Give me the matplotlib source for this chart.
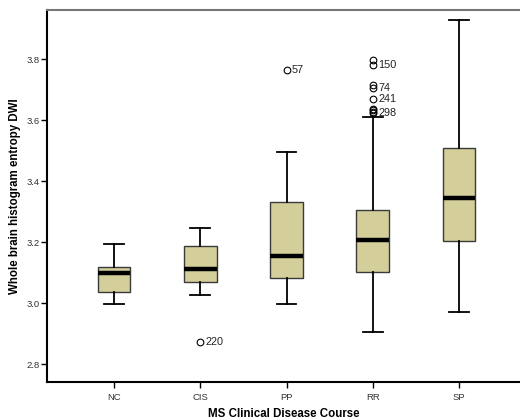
import matplotlib
matplotlib.use("Agg")
import matplotlib.pyplot as plt

plt.rcParams['font.family'] = ['Liberation Sans', 'DejaVu Sans']

categories = ["NC", "CIS", "PP", "RR", "SP"]
whislo = [2.996, 3.026, 2.997, 2.905, 2.970]
q1 = [3.037, 3.069, 3.081, 3.103, 3.203]
med = [3.099, 3.112, 3.154, 3.206, 3.345]
q3 = [3.118, 3.187, 3.330, 3.305, 3.509]
whishi = [3.193, 3.247, 3.496, 3.609, 3.928]

outlier_values = [[], [2.873], [3.766],
                  [3.797, 3.782, 3.716, 3.707, 3.671, 3.638, 3.633, 3.628, 3.624], []]
outlier_labels = [[], ["220"], ["57"],
                  ["", "150", "", "74", "241", "", "", "", "298"], []]

yticks = [2.8, 3.0, 3.2, 3.4, 3.6, 3.8]
xlabel = "MS Clinical Disease Course"
ylabel = "Whole brain histogram entropy DWI"

box_color = "#D3CE9A"

fig = plt.figure(figsize=(5.2, 4.2), dpi=100)
ax = fig.add_axes([47/520, 1-382/420, 1-47/520, (382-9.5)/420])

stats = []
for i, c in enumerate(categories):
    stats.append(dict(label=c, whislo=whislo[i], q1=q1[i], med=med[i],
                      q3=q3[i], whishi=whishi[i], fliers=outlier_values[i]))

positions = list(range(1, len(categories) + 1))
ax.bxp(stats, positions=positions, widths=0.38, patch_artist=True,
       showfliers=True,
       boxprops=dict(facecolor=box_color, edgecolor="#3a3a3a", linewidth=1.0),
       medianprops=dict(color="black", linewidth=3.2, solid_capstyle="butt"),
       whiskerprops=dict(color="black", linewidth=1.3),
       capprops=dict(color="black", linewidth=1.3),
       capwidths=0.23,
       flierprops=dict(marker="o", markerfacecolor="none", markeredgecolor="black",
                       markersize=4.8, markeredgewidth=0.8))

for i, (vals, labs) in enumerate(zip(outlier_values, outlier_labels)):
    for v, l in zip(vals, labs):
        if l:
            ax.annotate(l, xy=(positions[i], v), xytext=(4, 0),
                        textcoords="offset points", va="center", ha="left",
                        fontsize=7.8, color="#222222")

ax.set_xlim(0.223, 5.707)
ax.set_ylim(2.741, 3.963)
ax.set_yticks(yticks)
ax.set_yticklabels([f"{t:.1f}" for t in yticks])
ax.set_xticks(positions)
ax.set_xticklabels(categories)
ax.tick_params(axis="both", labelsize=6.8, labelcolor="#333333", length=4, width=1.0, color="black")
ax.tick_params(axis="x", pad=4)
ax.tick_params(axis="y", pad=1.5)

ax.spines["right"].set_visible(False)
ax.spines["top"].set_color("#777777")
ax.spines["top"].set_linewidth(1.5)
ax.spines["left"].set_linewidth(1.5)
ax.spines["bottom"].set_linewidth(1.5)

ax.set_xlabel(xlabel, fontsize=8.3, fontweight="bold", labelpad=4)
ax.set_ylabel(ylabel, fontsize=8.3, fontweight="bold", labelpad=4)

fig.savefig("out.png", dpi=100)
